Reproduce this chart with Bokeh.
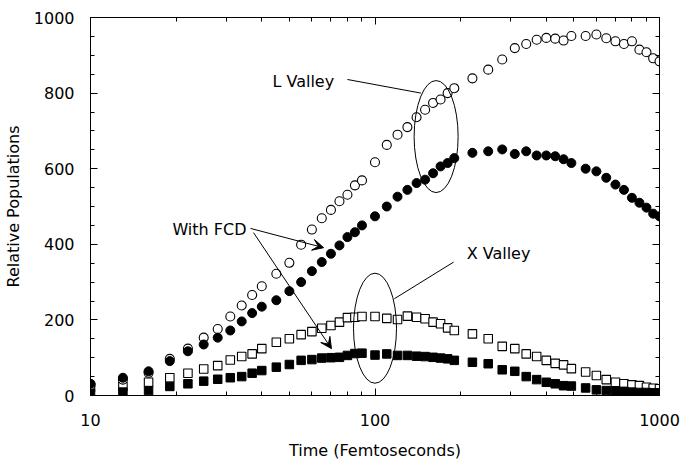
from bokeh.plotting import figure
from bokeh.models import (FixedTicker, LinearAxis, LogAxis, Label, Arrow, VeeHead,
                          Range1d, ColumnDataSource, CustomJSTickFormatter, BasicTickFormatter)
from bokeh.embed import file_html
from bokeh.resources import INLINE

# ---------------- data ----------------
time_fs = [10, 13, 16, 19, 22, 25, 28, 31, 34, 37,
           40, 45, 50, 55, 60, 65, 70, 75, 80, 85,
           90, 100, 110, 120, 130, 140, 150, 160, 170, 180,
           190, 220, 250, 280, 310, 340, 370, 400, 430, 460,
           490, 550, 600, 650, 700, 750, 800, 850, 900, 950, 1000]

l_valley = [28, 42, 60, 97, 124, 153, 176, 209, 238, 266,
            289, 322, 351, 399, 439, 469, 491, 514, 531, 556,
            569, 617, 663, 690, 710, 736, 756, 774, 783, 800,
            813, 839, 862, 889, 919, 930, 941, 946, 944, 939,
            951, 951, 955, 945, 937, 930, 937, 915, 908, 892, 884]

l_valley_fcd = [31, 47, 64, 91, 117, 135, 153, 172, 196, 218,
                235, 252, 276, 300, 329, 353, 375, 397, 419, 432,
                450, 474, 500, 526, 544, 562, 571, 588, 606, 615,
                628, 642, 646, 651, 639, 646, 635, 635, 633, 625,
                615, 600, 593, 576, 558, 544, 523, 510, 497, 481, 474]

x_valley = [22, 24, 35, 47, 59, 70, 79, 94, 103, 110,
            124, 141, 150, 161, 169, 178, 185, 194, 206, 207,
            209, 209, 204, 201, 210, 207, 203, 194, 190, 179,
            172, 163, 150, 130, 124, 110, 103, 93, 85, 81,
            71, 62, 53, 42, 35, 31, 28, 26, 22, 19, 18]

x_valley_fcd = [5, 9, 13, 24, 31, 38, 43, 47, 50, 59,
                66, 75, 82, 93, 95, 99, 100, 101, 106, 111,
                112, 107, 110, 106, 106, 104, 103, 101, 99, 97,
                93, 88, 84, 68, 64, 50, 42, 35, 31, 26,
                25, 20, 15, 13, 11, 11, 9, 8, 8, 7, 7]

x_major = [10, 100, 1000]
x_minor = [20, 30, 40, 50, 60, 70, 80, 90, 200, 300, 400, 500, 600, 700, 800, 900]
y_major = [0, 200, 400, 600, 800, 1000]
y_minor = [50, 100, 150, 250, 300, 350, 450, 500, 550, 650, 700, 750, 850, 900, 950]

# ---------------- styling ----------------
FONT = "DejaVu Sans"
FS = "16px"

src = ColumnDataSource(dict(t=time_fs, lv=l_valley, lvf=l_valley_fcd,
                            xv=x_valley, xvf=x_valley_fcd))

p = figure(x_axis_type="log", x_range=Range1d(10, 1000), y_range=Range1d(0, 1000),
           frame_width=569, frame_height=378,
           min_border_left=90, min_border_top=17, min_border_right=22, min_border_bottom=40,
           output_backend="svg", toolbar_location=None, background_fill_color="white",
           border_fill_color="white")
p.xgrid.visible = False
p.ygrid.visible = False
p.outline_line_color = "black"
p.outline_line_width = 1

def style_axis(ax, ticks, minor):
    ax.ticker = FixedTicker(ticks=ticks, minor_ticks=minor)
    ax.axis_line_color = "black"
    ax.major_tick_in = 7
    ax.major_tick_out = 0
    ax.minor_tick_in = 4
    ax.minor_tick_out = 0
    ax.major_tick_line_color = "black"
    ax.minor_tick_line_color = "black"
    ax.major_label_text_font = FONT
    ax.major_label_text_font_size = FS
    ax.major_label_text_color = "black"
    ax.axis_label_text_font = FONT
    ax.axis_label_text_font_size = FS
    ax.axis_label_text_font_style = "normal"
    ax.axis_label_text_color = "black"

style_axis(p.xaxis[0], x_major, x_minor)
style_axis(p.yaxis[0], y_major, y_minor)
p.xaxis[0].formatter = BasicTickFormatter()
p.xaxis[0].axis_label = "Time (Femtoseconds)"
p.yaxis[0].axis_label = "Relative Populations"
p.xaxis[0].major_label_standoff = 18
p.xaxis[0].axis_label_standoff = 12
p.yaxis[0].major_label_standoff = 16
p.yaxis[0].axis_label_standoff = 8

top = LogAxis()
style_axis(top, x_major, x_minor)
top.formatter = CustomJSTickFormatter(code="return ''")
top.major_label_standoff = 0
p.add_layout(top, "above")

right = LinearAxis()
style_axis(right, y_major, y_minor)
right.formatter = CustomJSTickFormatter(code="return ''")
right.major_label_standoff = 0
p.add_layout(right, "right")

# ---------------- data marks ----------------
p.scatter("t", "xv", source=src, marker="square", size=8.5, fill_color="white",
          line_color="black", line_width=1.1)
p.scatter("t", "xvf", source=src, marker="square", size=8.5, fill_color="black",
          line_color="black", line_width=1)
p.scatter("t", "lv", source=src, marker="circle", size=9, fill_color="white",
          line_color="black", line_width=1.1)
p.scatter("t", "lvf", source=src, marker="circle", size=9, fill_color="black",
          line_color="black", line_width=1)

# ---------------- annotations ----------------
p.ellipse(x=[164], y=[685], width=44, height=112, width_units="screen",
          height_units="screen", fill_color=None, line_color="black", line_width=1)
p.ellipse(x=[100], y=[178], width=43, height=110, width_units="screen",
          height_units="screen", fill_color=None, line_color="black", line_width=1)

label_kw = dict(text_font=FONT, text_font_size=FS, text_color="black",
                text_baseline="middle", text_align="left")
p.add_layout(Label(x=43.6, y=831, text="L Valley", **label_kw))
p.add_layout(Label(x=210, y=375, text="X Valley", **label_kw))
p.add_layout(Label(x=19.4, y=438, text="With FCD", **label_kw))

p.segment(x0=[80, 189], y0=[836, 353], x1=[145, 117], y1=[800, 256],
          line_color="black", line_width=1)

for xs, ys, xe, ye in [(36.5, 442, 66, 391), (37.4, 431, 70.3, 124)]:
    p.add_layout(Arrow(x_start=xs, y_start=ys, x_end=xe, y_end=ye,
                       line_color="black", line_width=1,
                       end=VeeHead(size=11, fill_color="black", line_color="black",
                                   line_width=1)))

open("out.html", "w").write(file_html(p, INLINE))
